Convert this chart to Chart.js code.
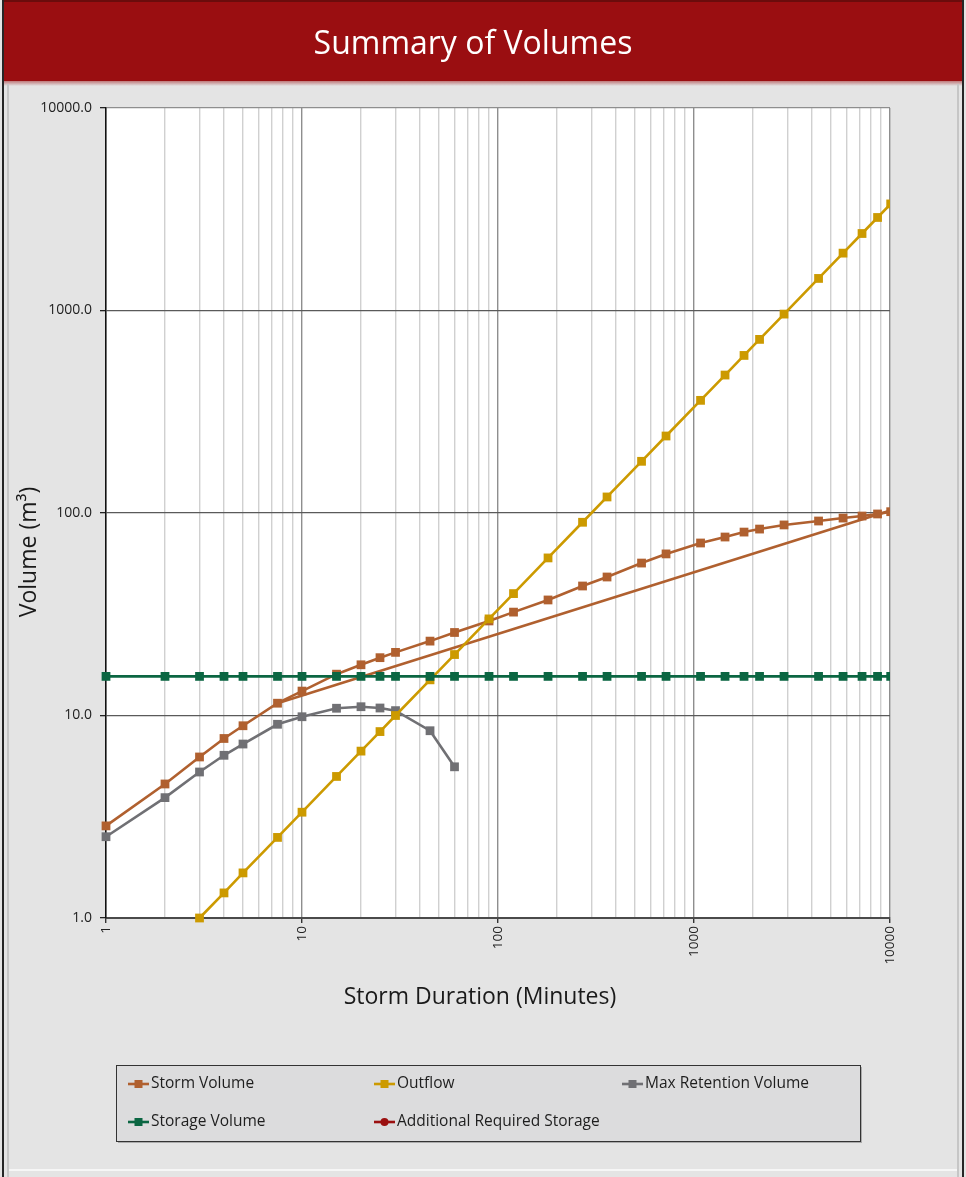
<!DOCTYPE html>
<html>
<head>
<meta charset="utf-8">
<title>Summary of Volumes</title>
<script src="https://cdn.jsdelivr.net/npm/chart.js@4.4.1/dist/chart.umd.min.js"></script>
<style>
  html, body { margin: 0; padding: 0; background: #e4e4e4; }
  #wrap { position: relative; width: 966px; height: 1177px; }
</style>
</head>
<body>
<div id="wrap"><canvas id="volumesChart" width="966" height="1177"></canvas></div>
<script>
// durations in minutes
var durations = [1, 2, 3, 4, 5, 7.5, 10, 15, 20, 25, 30, 45, 60, 90, 120, 180, 270, 360,
                 540, 720, 1080, 1440, 1800, 2160, 2880, 4320, 5760, 7200, 8640, 10080];

// volumes in m3
var stormVolume = [2.85, 4.59, 6.24, 7.7, 8.9, 11.5, 13.2, 16.0, 17.8, 19.3, 20.5, 23.3, 25.7, 29.3,
                   32.4, 37.2, 43.6, 48.3, 56.6, 62.8, 71.1, 76.1, 80.5, 83.3, 87.3, 91.3, 94.4,
                   96.6, 98.9, 101.5];
var outflow = [null, null, 1.0, 1.33, 1.67, 2.5, 3.33, 5, 6.67, 8.33, 10, 15, 20, 30, 40, 60, 90,
               120, 180, 240, 360, 480, 600, 720, 960, 1440, 1920, 2400, 2880, 3360];
var maxRetention = [2.52, 3.93, 5.26, 6.36, 7.23, 9.05, 9.86, 10.86, 11.05, 10.89, 10.57, 8.41, 5.58];
var storageVolume = [15.6, 15.6, 15.6, 15.6, 15.6, 15.6, 15.6, 15.6, 15.6, 15.6, 15.6, 15.6, 15.6,
                     15.6, 15.6, 15.6, 15.6, 15.6, 15.6, 15.6, 15.6, 15.6, 15.6, 15.6, 15.6, 15.6,
                     15.6, 15.6, 15.6, 15.6];
var additionalStorage = [];

// straight storm volume line (no markers)
var stormLineDurations = [7.5, 10080];
var stormLineVolume = [11.5, 103];

var xTicks = [1, 10, 100, 1000, 10000];
var yTicks = [1, 10, 100, 1000, 10000];

var FONT = "'Open Sans', 'DejaVu Sans', sans-serif";

function toPoints(xs, ys) {
    var pts = [];
    for (var i = 0; i < xs.length; i++) {
        if (ys[i] !== undefined && ys[i] !== null) pts.push({ x: xs[i], y: ys[i] });
    }
    return pts;
}

function isDecade(v) {
    var l = Math.log10(v);
    return Math.abs(l - Math.round(l)) < 1e-9;
}

var clipBox = { left: 8, top: 8, right: 0, bottom: 8 };

function series(label, xs, ys, color, style, order) {
    return {
        label: label,
        data: toPoints(xs, ys),
        borderColor: color,
        backgroundColor: color,
        borderWidth: 2.6,
        pointStyle: style,
        pointRadius: style ? 6.2 : 0,
        pointBorderWidth: 0,
        pointBackgroundColor: color,
        tension: 0,
        clip: clipBox,
        order: order
    };
}

var datasets = [
    series('Storm Volume', durations, stormVolume, '#b0602f', 'rect', 4),
    series('Outflow', durations, outflow, '#cc9a00', 'rect', 2),
    series('Max Retention Volume', durations, maxRetention, '#707074', 'rect', 3),
    series('Storage Volume', durations, storageVolume, '#0b6642', 'rect', 1),
    series('Additional Required Storage', durations, additionalStorage, '#9b1010', 'circle', 0),
    series('', stormLineDurations, stormLineVolume, '#b0602f', false, 5)
];

// frame, title bar, white plot area, titles
var framePlugin = {
    id: 'frame',
    beforeDraw: function (chart) {
        var c = chart.ctx, W = chart.width, H = chart.height, a = chart.chartArea;
        c.save();
        c.fillStyle = '#e4e4e4';
        c.fillRect(0, 0, W, H);

        // title bar
        c.fillStyle = '#9a0e11';
        c.fillRect(3, 2, W - 6, 79);
        var g = c.createLinearGradient(0, 78, 0, 86);
        g.addColorStop(0, 'rgba(154,14,17,0.8)');
        g.addColorStop(1, 'rgba(154,14,17,0)');
        c.fillStyle = g;
        c.fillRect(3, 78, W - 6, 8);
        c.fillStyle = '#6a0c0c';
        c.fillRect(3, 0, W - 6, 2);

        // outer borders
        c.fillStyle = '#262626';
        c.fillRect(2, 0, 2, H);
        c.fillRect(W - 4, 0, 2, H);
        c.fillStyle = '#c6c6c6';
        c.fillRect(7, 84, 2, H - 84);
        c.fillRect(W - 9, 84, 2, H - 84);
        c.fillStyle = '#f6f6f6';
        c.fillRect(9, 1169, W - 18, 2);

        c.fillStyle = '#ffffff';
        c.fillRect(a.left, a.top, a.right - a.left, a.bottom - a.top);
        c.restore();
    },
    afterDraw: function (chart) {
        var c = chart.ctx;
        c.save();
        c.fillStyle = '#ffffff';
        c.font = '32px ' + FONT;
        c.textAlign = 'center';
        c.textBaseline = 'alphabetic';
        c.fillText('Summary of Volumes', 473, 54);

        c.fillStyle = '#1a1a1a';
        c.font = '23px ' + FONT;
        c.textBaseline = 'middle';
        c.fillText('Storm Duration (Minutes)', 480, 997);

        c.translate(29, 552);
        c.rotate(-Math.PI / 2);
        c.fillText('Volume (m³)', 0, 0);
        c.restore();
    }
};

// legend box below the chart
var legendPlugin = {
    id: 'volLegend',
    afterDraw: function (chart) {
        var c = chart.ctx;
        var box = { x: 116, y: 1065, w: 744, h: 76 };
        var slots = [[128, 1084], [374, 1084], [622, 1084], [128, 1122], [374, 1122]];
        c.save();
        c.fillStyle = 'rgba(0,0,0,0.25)';
        c.fillRect(box.x + 2, box.y + 2, box.w, box.h);
        c.fillStyle = '#dcdcdd';
        c.fillRect(box.x, box.y, box.w, box.h);
        c.strokeStyle = '#333333';
        c.lineWidth = 1;
        c.strokeRect(box.x + 0.5, box.y + 0.5, box.w, box.h);

        c.font = '15.5px ' + FONT;
        c.textBaseline = 'middle';
        for (var i = 0; i < slots.length; i++) {
            var ds = chart.data.datasets[i];
            var x = slots[i][0], y = slots[i][1];
            c.strokeStyle = ds.borderColor;
            c.lineWidth = 2.6;
            c.beginPath();
            c.moveTo(x, y);
            c.lineTo(x + 21, y);
            c.stroke();
            c.fillStyle = ds.borderColor;
            if (ds.pointStyle === 'circle') {
                c.beginPath();
                c.arc(x + 10.5, y, 4, 0, Math.PI * 2);
                c.fill();
            } else {
                c.fillRect(x + 6.5, y - 4, 8, 8);
            }
            c.fillStyle = '#1e1e1e';
            c.textAlign = 'left';
            c.fillText(ds.label, x + 23, y);
        }
        c.restore();
    }
};

new Chart(document.getElementById('volumesChart'), {
    type: 'line',
    data: { datasets: datasets },
    plugins: [framePlugin, legendPlugin],
    options: {
        responsive: false,
        animation: false,
        events: [],
        layout: { padding: { left: 0, top: 108, right: 76, bottom: 159 } },
        plugins: {
            legend: { display: false },
            title: { display: false },
            tooltip: { enabled: false }
        },
        scales: {
            x: {
                type: 'logarithmic',
                min: 1,
                max: 10000,
                afterBuildTicks: function (scale) {
                    var t = [];
                    for (var d = 0; d < xTicks.length; d++) {
                        var base = xTicks[d];
                        if (base === 10000) { t.push({ value: base }); break; }
                        for (var k = 1; k <= 9; k++) t.push({ value: base * k });
                    }
                    scale.ticks = t;
                },
                afterFit: function (scale) { scale.height = 100; },
                ticks: {
                    autoSkip: false,
                    minRotation: 90,
                    maxRotation: 90,
                    padding: 3,
                    color: '#222',
                    font: { family: FONT, size: 13.5 },
                    callback: function (v) { return isDecade(v) ? String(v) : ''; }
                },
                grid: {
                    lineWidth: 1.4,
                    tickLength: 5,
                    color: function (ctx) {
                        var v = ctx.tick && ctx.tick.value;
                        if (!v) return '#d0d0d0';
                        return isDecade(v) ? '#8e8e8e' : '#d0d0d0';
                    },
                    tickColor: function (ctx) {
                        var v = ctx.tick && ctx.tick.value;
                        return v && isDecade(v) ? '#333' : 'rgba(0,0,0,0)';
                    }
                },
                border: { color: '#4a4a4a', width: 2 }
            },
            y: {
                type: 'logarithmic',
                min: 1,
                max: 10000,
                afterBuildTicks: function (scale) {
                    scale.ticks = yTicks.map(function (v) { return { value: v }; });
                },
                afterFit: function (scale) { scale.width = 106; },
                ticks: {
                    padding: 8,
                    color: '#222',
                    font: { family: FONT, size: 14 },
                    callback: function (v) { return Number(v).toFixed(1); }
                },
                grid: {
                    lineWidth: 1.3,
                    tickLength: 6,
                    tickColor: '#222',
                    color: function (ctx) {
                        var v = ctx.tick && ctx.tick.value;
                        return v === 10000 ? '#8e8e8e' : '#5a5a5a';
                    }
                },
                border: { color: '#111', width: 1.5 }
            }
        }
    }
});
</script>
</body>
</html>
